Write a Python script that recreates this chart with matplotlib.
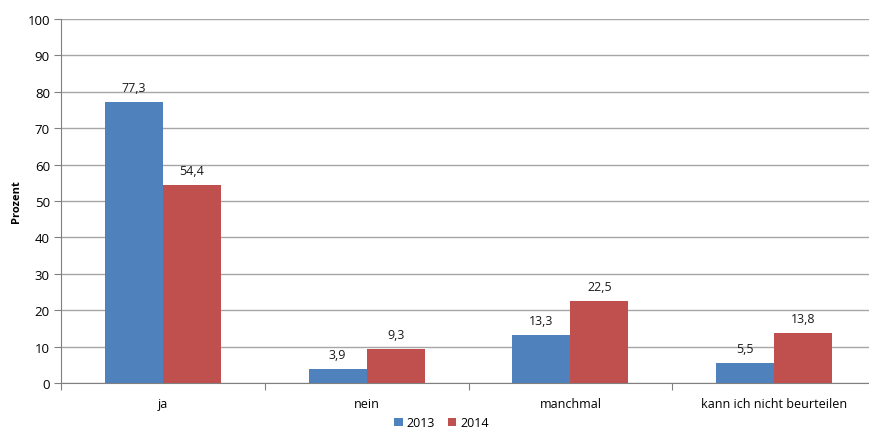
"""Grouped bar chart: Prozent by answer, 2013 vs 2014."""

import numpy as np
import matplotlib.pyplot as plt

categories = ["ja", "nein", "manchmal", "kann ich nicht beurteilen"]
values_2013 = [77.3, 3.9, 13.3, 5.5]
values_2014 = [54.4, 9.3, 22.5, 13.8]
series_labels = ["2013", "2014"]

blue = "#4f81bd"
red = "#c0504d"
grid_color = "#a6a6a6"

plt.rcParams["font.family"] = ["Open Sans", "DejaVu Sans"]

fig = plt.figure(figsize=(8.69, 4.35), dpi=100)
# plot area runs a little past the right image edge, as in the source
ax = fig.add_axes([0.0702, 0.1172, 0.9379, 0.8368])

x = np.arange(len(categories))
width = 0.285

bars13 = ax.bar(x - width / 2, values_2013, width, color=blue, label=series_labels[0], zorder=3)
bars14 = ax.bar(x + width / 2, values_2014, width, color=red, label=series_labels[1], zorder=3)

# value labels with comma decimal
for bars in (bars13, bars14):
    for b in bars:
        h = b.get_height()
        ax.text(b.get_x() + b.get_width() / 2, h + 2.2, f"{h:.1f}".replace(".", ","),
                ha="center", va="bottom", fontsize=9, color="#1a1a1a")

ax.set_xlim(-0.5, len(categories) - 0.5)
ax.set_ylim(0, 100)
ax.set_yticks(range(0, 101, 10))
ax.yaxis.grid(True, color=grid_color, linewidth=1, zorder=0)
ax.set_axisbelow(True)

# category labels between the boundary ticks
ax.set_xticks(np.arange(-0.5, len(categories), 1))
ax.set_xticklabels([])
ax.set_xticks(x, minor=True)
ax.set_xticklabels(categories, minor=True, fontsize=9)
ax.tick_params(axis="x", which="minor", length=0, pad=10)
ax.tick_params(axis="x", which="major", length=5, color="#808080", direction="out")
ax.tick_params(axis="y", length=5, color="#808080", labelsize=9.5, pad=3)

for side in ["top", "right"]:
    ax.spines[side].set_visible(False)
ax.spines["left"].set_color("#808080")
ax.spines["bottom"].set_color("#808080")

ax.set_ylabel("Prozent", fontsize=8, fontweight="bold", labelpad=4)

fig.legend(loc="lower center", ncol=2, frameon=False, fontsize=9,
           bbox_to_anchor=(0.508, -0.015), handlelength=0.7, handleheight=0.7,
           handletextpad=0.3, columnspacing=1.0)

plt.savefig("out.png", dpi=100)
